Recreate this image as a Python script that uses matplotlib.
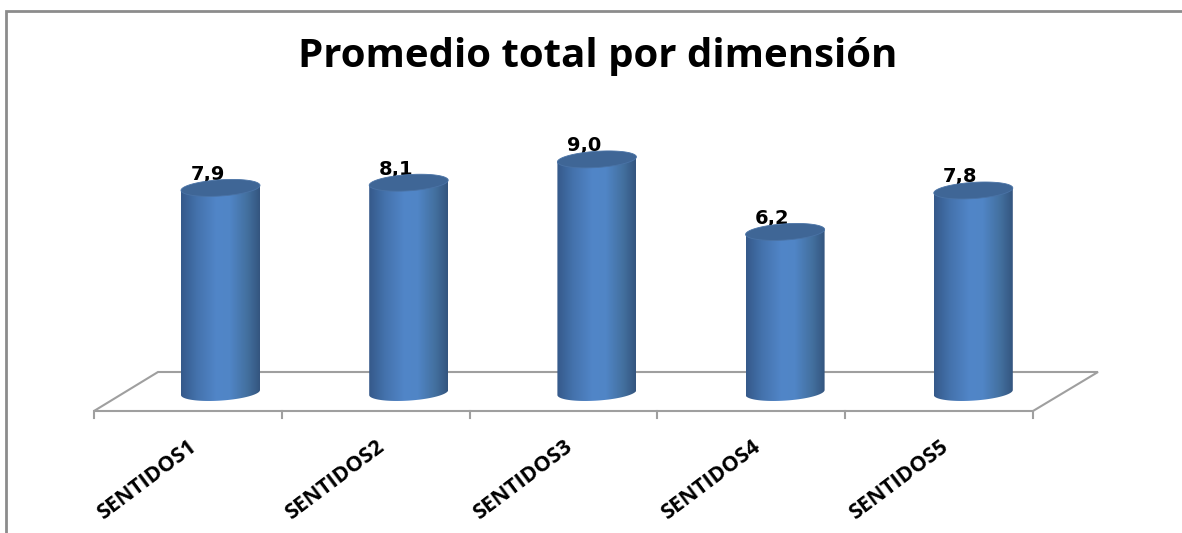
import numpy as np
import matplotlib
matplotlib.use("Agg")
import matplotlib.pyplot as plt
from matplotlib.colors import LinearSegmentedColormap
from matplotlib.patches import PathPatch, Polygon
from matplotlib.path import Path
from matplotlib.transforms import Affine2D

categories = ["SENTIDOS1", "SENTIDOS2", "SENTIDOS3", "SENTIDOS4", "SENTIDOS5"]
values = [7.9, 8.1, 9.0, 6.2, 7.8]
value_labels = ["7,9", "8,1", "9,0", "6,2", "7,8"]
title = "Promedio total por dimensión"

W, H = 1182, 533
plt.rcParams["font.family"] = ["Open Sans", "DejaVu Sans"]
fig = plt.figure(figsize=(W / 100, H / 100), dpi=100, facecolor="white")
ax = fig.add_axes([0, 0, 1, 1])

# Category and value scales, laid out so the cylinders sit over the floor.
x0, dx = 220.5, 188.2
y0, dy = 392.5, 25.9
ax.set_xlim((0 - x0) / dx, (W - x0) / dx)
ax.set_ylim((y0 - H) / dy, y0 / dy)
ax.axis("off")

# Coordinates in canvas pixels, measured from the top left corner.
pix = Affine2D().scale(1 / W, -1 / H).translate(0, 1) + fig.transFigure

# Chart frame: only the left and top edges fall on the canvas
ax.plot([6, 6, W], [H, 11, 11], color="#8c8c8c", lw=2.0, transform=pix,
        solid_joinstyle="miter", zorder=1)

# 3D floor and tick marks
floor_color = "#9f9f9f"
ax.add_patch(Polygon([(94, 411), (1033, 411), (1098, 372), (158, 372)], closed=True,
                     fill=False, edgecolor=floor_color, lw=1.5, transform=pix, zorder=2))
for px in np.linspace(94, 1033, len(categories) + 1):
    ax.plot([px, px], [411, 418], color=floor_color, lw=1.5, transform=pix, zorder=2)

# Cylinders: horizontal shading clipped to a sheared elliptical outline
half_w = 39.5 / dx
ell_b = 8.1 / dy
ell_k = 2.5 / dy
shade = LinearSegmentedColormap.from_list(
    "cyl", [(0, "#35598a"), (0.2, "#4472ac"), (0.45, "#5186c8"),
            (0.62, "#5085c6"), (0.84, "#43709f"), (1, "#34557f")])
grad = np.linspace(0, 1, 256)[None, :]
t_top = np.linspace(0, np.pi, 60)
t_bot = np.linspace(np.pi, 2 * np.pi, 60)

for i, v in enumerate(values):
    body = np.column_stack([
        np.r_[i + half_w * np.cos(t_bot), i + half_w * np.cos(t_top)],
        np.r_[ell_b * np.sin(t_bot) + ell_k * np.cos(t_bot), v + ell_k * np.cos(t_top)],
    ])
    clip = PathPatch(Path(np.r_[body, body[:1]]), transform=ax.transData,
                     facecolor="none", edgecolor="none")
    ax.add_patch(clip)
    img = ax.imshow(grad, cmap=shade, aspect="auto", zorder=3, interpolation="bilinear",
                    extent=(i - half_w, i + half_w, -1, v + 1))
    img.set_clip_path(clip)

    # Top cap of the cylinder
    t = np.linspace(0, 2 * np.pi, 120)
    cap = np.column_stack([i + half_w * np.cos(t),
                           v + ell_b * np.sin(t) + ell_k * np.cos(t)])
    ax.add_patch(Polygon(cap, closed=True, facecolor="#3f6696", edgecolor="#4a73a6",
                         lw=0.6, zorder=4))

    # Value label, tucked slightly behind the cap
    ax.text(i - 13 / dx, v + 8 / dy, value_labels[i], ha="center", va="baseline",
            fontsize=14, fontweight="bold", color="black", zorder=2.5,
            family="DejaVu Sans")

    # Slanted category label ending below its tick slot
    ax.text(i - 27 / dx, -52 / dy, categories[i], rotation=37, rotation_mode="anchor",
            ha="right", va="center", fontsize=15.5, fontweight="bold", color="black")

ax.text(598, 67, title, transform=pix, ha="center", va="baseline",
        fontsize=29, fontweight="bold", color="black")

ax.set_xlim((0 - x0) / dx, (W - x0) / dx)
ax.set_ylim((y0 - H) / dy, y0 / dy)
fig.savefig("out.png", dpi=100)
